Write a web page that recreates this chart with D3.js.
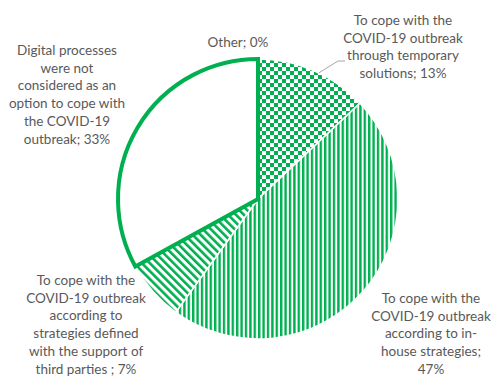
<!DOCTYPE html>
<html>
<head>
<meta charset="utf-8">
<script src="https://cdn.jsdelivr.net/npm/d3@7"></script>
<style>
  html, body { margin: 0; padding: 0; background: #fff; }
  svg { display: block; }
  text { font-family: Lato, "Open Sans", sans-serif; font-size: 13.5px; fill: #595959; }
</style>
</head>
<body>
<svg id="chart" width="495" height="376"></svg>
<script>
// Share of respondents by how digital processes were used during the outbreak
const categories = ["Other", "Temporary solutions", "In-house strategies", "Third-party strategies", "Not considered"];
const values = [0, 13, 47, 7, 33];
const fills = ["white", "url(#checker)", "url(#vstripes)", "url(#dstripes)", "white"];
const labelLines = [
  ["Other; 0%"],
  ["To cope with the", "COVID-19 outbreak", "through temporary", "solutions; 13%"],
  ["To cope with the", "COVID-19 outbreak", "according to in-", "house strategies;", "47%"],
  ["To cope with the", "COVID-19 outbreak", "according to", "strategies defined", "with the support of", "third parties ; 7%"],
  ["Digital processes", "were not", "considered as an", "option to cope with", "the COVID-19", "outbreak; 33%"]
];
const labelPos = [[238, 42], [403, 20], [431, 298], [86, 280], [67, 50]];

const green = "#00B050";
const svg = d3.select("#chart");
const defs = svg.append("defs");

// checkerboard
const chk = defs.append("pattern").attr("id", "checker").attr("patternUnits", "userSpaceOnUse")
  .attr("width", 8).attr("height", 8);
chk.append("rect").attr("width", 8).attr("height", 8).attr("fill", "white");
chk.append("rect").attr("width", 4).attr("height", 4).attr("fill", green);
chk.append("rect").attr("x", 4).attr("y", 4).attr("width", 4).attr("height", 4).attr("fill", green);

// vertical stripes
const vs = defs.append("pattern").attr("id", "vstripes").attr("patternUnits", "userSpaceOnUse")
  .attr("width", 4.4).attr("height", 10);
vs.append("rect").attr("width", 4.4).attr("height", 10).attr("fill", "white");
vs.append("rect").attr("width", 2.4).attr("height", 10).attr("fill", green);

// diagonal stripes
const ds = defs.append("pattern").attr("id", "dstripes").attr("patternUnits", "userSpaceOnUse")
  .attr("width", 5.6).attr("height", 10).attr("patternTransform", "rotate(-45)");
ds.append("rect").attr("width", 5.6).attr("height", 10).attr("fill", "white");
ds.append("rect").attr("width", 2.6).attr("height", 10).attr("fill", green);

const cx = 258, cy = 199, r = 140;
const pie = d3.pie().sort(null).value(d => d)(values);
const arc = d3.arc().innerRadius(0).outerRadius(r);

const g = svg.append("g").attr("transform", `translate(${cx},${cy})`);
const order = [1, 2, 3, 0, 4];
g.selectAll("path.slice").data(order.map(i => ({ ...pie[i], idx: i }))).join("path")
  .attr("class", "slice")
  .attr("d", arc)
  .attr("fill", d => fills[d.idx])
  .attr("stroke", d => fills[d.idx] === "white" ? green : "white")
  .attr("stroke-width", d => fills[d.idx] === "white" ? 4 : 1.5)
  .attr("stroke-linejoin", "miter");

// leader line for the temporary solutions label
const a0 = pie[1].startAngle + (pie[1].endAngle - pie[1].startAngle) * 0.55;
const p0 = [cx + Math.sin(a0) * r, cy - Math.cos(a0) * r];
svg.append("polyline")
  .attr("points", [p0, [338, 61], [345, 61]].map(p => p.join(",")).join(" "))
  .attr("fill", "none").attr("stroke", "#a6a6a6").attr("stroke-width", 1);

// labels
labelLines.forEach((lines, i) => {
  const t = svg.append("text").attr("text-anchor", "middle")
    .attr("x", labelPos[i][0]).attr("y", labelPos[i][1]);
  lines.forEach((s, j) => {
    t.append("tspan").attr("x", labelPos[i][0]).attr("dy", j === 0 ? "0.35em" : 17.8).text(s);
  });
});
</script>
</body>
</html>
